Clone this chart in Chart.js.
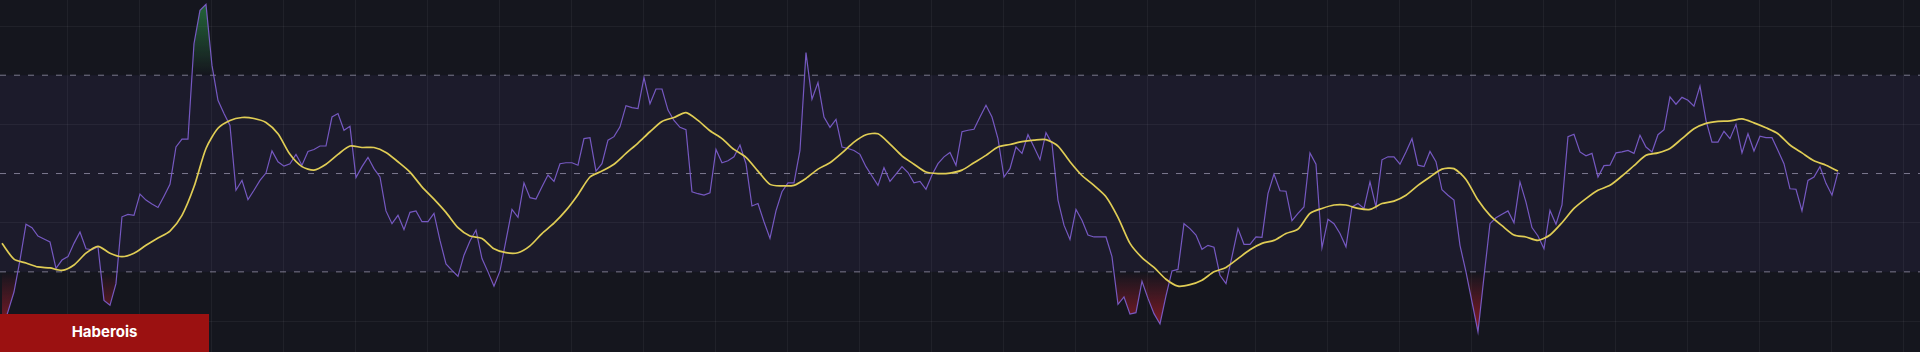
<!DOCTYPE html>
<html>
<head>
<meta charset="utf-8">
<title>RSI</title>
<script src="https://cdn.jsdelivr.net/npm/chart.js@4.4.1/dist/chart.umd.min.js"></script>
<style>
    html, body { margin: 0; padding: 0; background: #15161e; overflow: hidden; }
    #wrap { position: relative; width: 1920px; height: 352px; }
    #tag {
        position: absolute; left: 0; bottom: 0; width: 209px; height: 38px;
        box-sizing: border-box; padding-bottom: 4px;
        background: #9b1111; color: #fff;
        font: 700 15px Inter, "DejaVu Sans", sans-serif;
        display: flex; align-items: center; justify-content: center;
    }
</style>
</head>
<body>
<div id="wrap">
    <canvas id="rsiChart"></canvas>
    <div id="tag">Haberois</div>
</div>
<script>
// RSI per bar
const rsiValues = [
    18.1, 21.9, 25.9, 32.4, 39.7, 39.0, 37.3, 36.7, 36.1, 30.7, 32.4, 33.1, 35.8, 38.1, 34.7, 34.5, 35.1, 24.2, 23.2, 27.6,
    41.2, 41.7, 41.5, 45.8, 44.6, 43.8, 43.1, 45.4, 47.8, 55.4, 57.0, 57.0, 76.4, 83.2, 84.4, 72.0, 64.9, 62.2, 59.8, 46.6,
    48.6, 44.7, 46.6, 48.6, 50.1, 54.6, 52.4, 51.5, 52.0, 53.9, 51.7, 54.5, 54.9, 55.6, 55.6, 61.5, 62.2, 58.8, 59.6, 49.2,
    51.4, 53.3, 51.0, 49.3, 42.4, 39.8, 41.5, 38.6, 42.1, 42.4, 40.2, 40.2, 41.9, 36.4, 31.6, 30.3, 29.1, 33.4, 36.3, 38.5,
    32.7, 30.0, 27.1, 30.2, 36.4, 42.7, 41.1, 48.1, 45.1, 44.8, 47.3, 49.7, 48.4, 52.0, 52.2, 52.2, 51.7, 57.1, 57.3, 50.5,
    52.0, 56.8, 57.5, 59.5, 63.8, 63.4, 63.2, 69.5, 64.2, 67.2, 67.2, 62.9, 60.8, 59.4, 58.9, 46.3, 45.9, 45.6, 46.1, 54.9,
    52.2, 52.6, 53.4, 55.8, 52.0, 43.4, 43.9, 40.2, 36.8, 42.4, 46.3, 48.1, 48.1, 54.7, 74.6, 65.1, 68.5, 61.5, 59.4, 61.0,
    55.4, 55.1, 54.7, 53.9, 51.4, 49.5, 47.6, 51.2, 48.4, 49.9, 51.4, 50.2, 48.1, 48.4, 46.8, 49.7, 52.0, 53.4, 54.3, 51.7,
    58.5, 58.8, 59.0, 61.5, 63.9, 61.5, 57.1, 49.3, 51.0, 55.4, 54.1, 57.9, 55.4, 52.8, 58.3, 56.1, 44.6, 39.5, 36.6, 42.7,
    40.5, 37.5, 37.1, 37.1, 37.1, 33.1, 23.4, 24.9, 21.4, 21.7, 28.1, 24.6, 21.5, 19.4, 25.1, 30.2, 30.5, 39.8, 38.8, 37.5,
    34.6, 35.4, 35.0, 29.3, 27.6, 33.1, 38.8, 35.6, 35.6, 37.1, 37.0, 45.9, 49.9, 46.5, 46.4, 40.4, 41.9, 43.2, 54.2, 51.9,
    34.9, 40.7, 39.8, 37.8, 35.1, 43.2, 43.9, 42.9, 48.3, 43.2, 52.8, 53.4, 53.4, 51.9, 54.4, 57.1, 51.7, 51.4, 54.5, 52.4,
    46.7, 45.6, 44.6, 35.4, 30.0, 23.9, 17.8, 29.0, 39.8, 41.0, 41.7, 42.4, 40.0, 48.3, 44.2, 39.0, 37.3, 34.7, 42.5, 39.7,
    43.6, 57.5, 58.0, 54.4, 53.6, 54.1, 49.3, 51.6, 51.7, 54.2, 54.4, 54.7, 54.1, 57.8, 55.4, 54.4, 57.9, 58.9, 65.6, 64.1,
    65.5, 64.9, 63.7, 67.8, 60.8, 56.4, 56.4, 58.6, 57.1, 60.0, 54.2, 58.1, 54.6, 57.6, 57.3, 57.3, 54.7, 52.0, 46.9, 46.8,
    42.4, 48.6, 49.3, 51.4, 48.0, 45.6, 50.3
];

// RSI moving average, read every 2nd bar
const maStep = 2;
const maValues = [
    35.8, 32.6, 31.8, 31.0, 30.8, 30.3, 31.4, 33.8, 35.2, 33.8, 33.1, 33.8, 35.4, 36.9, 38.3, 41.5, 47.3, 55.1, 59.2, 60.8,
    61.4, 61.2, 60.4, 58.1, 53.9, 51.4, 50.7, 51.9, 53.9, 55.6, 55.3, 55.3, 54.3, 52.4, 50.3, 47.3, 44.8, 42.1, 39.0, 37.3,
    36.8, 34.7, 33.9, 33.9, 35.3, 37.8, 39.9, 42.5, 45.7, 49.3, 50.5, 51.9, 54.1, 56.2, 58.5, 60.6, 61.4, 62.4, 60.8, 58.7,
    57.1, 54.9, 53.3, 50.5, 47.8, 47.5, 47.6, 49.0, 50.9, 52.2, 54.2, 56.4, 57.9, 58.1, 56.0, 53.6, 51.9, 50.3, 50.0, 50.1,
    50.7, 52.2, 53.7, 55.4, 55.9, 56.5, 56.8, 56.9, 55.6, 52.4, 49.6, 47.6, 45.3, 41.1, 35.8, 32.9, 30.9, 28.5, 27.1, 27.4,
    28.3, 30.0, 30.9, 32.7, 34.5, 35.8, 36.4, 37.8, 38.7, 41.9, 42.9, 43.6, 43.6, 42.9, 42.7, 43.9, 44.4, 45.6, 47.6, 49.3,
    50.9, 51.0, 48.8, 44.6, 41.5, 39.4, 37.5, 37.1, 36.4, 37.5, 40.0, 42.9, 44.9, 46.6, 47.6, 49.5, 51.6, 53.7, 54.2, 55.1,
    57.1, 59.1, 60.2, 60.6, 60.7, 61.1, 60.3, 59.3, 58.1, 55.8, 54.2, 52.6, 51.7, 50.5
];

const upperLevel = 70;
const midLevel = 50;
const lowerLevel = 30;

// vertical grid (bar index) and horizontal grid (rsi value)
const gridBars = [11, 23, 35, 47, 59, 71, 83, 95, 107, 119, 131, 143, 155, 167, 179, 191, 209, 221, 233, 245, 257, 269, 281, 293, 305, 317];
const gridLevels = [20, 40, 60, 80];

const xMin = -0.33, xMax = 319.67;
const yMin = 13.7, yMax = 85.3;

const toPoints = (vals, step) => vals.map((v, i) => ({ x: i * step, y: v }));
const flatLine = (level) => [{ x: xMin, y: level }, { x: xMax, y: level }];

// vertical gradient between two rsi values, transparent at the first one
function fade(chart, fromVal, toVal, rgb, alpha) {
    if (!chart.chartArea) return "transparent";
    let y = chart.scales.y;
    let g = chart.ctx.createLinearGradient(0, y.getPixelForValue(fromVal), 0, y.getPixelForValue(toVal));
    g.addColorStop(0, `rgba(${rgb},0)`);
    g.addColorStop(1, `rgba(${rgb},${alpha})`);
    return g;
}

const dashStyle = {
    borderColor: "rgba(175,172,195,0.65)",
    borderWidth: 1,
    borderDash: [6, 8],
    pointRadius: 0,
    fill: false,
    order: 3
};

new Chart(document.getElementById("rsiChart"), {
    type: "line",
    data: {
        datasets: [
            {
                label: "MA",
                data: toPoints(maValues, maStep),
                borderColor: "#e0cd55",
                borderWidth: 1.7,
                pointRadius: 0,
                tension: 0.25,
                fill: false,
                order: 0
            },
            {
                label: "RSI",
                data: toPoints(rsiValues, 1),
                borderColor: "rgba(126,94,206,0.92)",
                borderWidth: 1.2,
                pointRadius: 0,
                tension: 0,
                fill: false,
                order: 1
            },
            {
                label: "overbought",
                data: toPoints(rsiValues, 1),
                borderWidth: 0,
                borderColor: "transparent",
                pointRadius: 0,
                fill: { target: { value: upperLevel }, below: "rgba(0,0,0,0)" },
                backgroundColor: (c) => fade(c.chart, upperLevel, 84, "45,150,75", 0.6),
                order: 2
            },
            {
                label: "oversold",
                data: toPoints(rsiValues, 1),
                borderWidth: 0,
                borderColor: "transparent",
                pointRadius: 0,
                fill: { target: { value: lowerLevel }, above: "rgba(0,0,0,0)" },
                backgroundColor: (c) => fade(c.chart, lowerLevel, 17, "200,30,45", 0.7),
                order: 2
            },
            Object.assign({ label: "upper", data: flatLine(upperLevel) }, dashStyle, {
                fill: { target: { value: lowerLevel } },
                backgroundColor: "rgba(115,95,210,0.075)",
                order: 4
            }),
            Object.assign({ label: "mid", data: flatLine(midLevel) }, dashStyle),
            Object.assign({ label: "lower", data: flatLine(lowerLevel) }, dashStyle)
        ]
    },
    options: {
        responsive: true,
        maintainAspectRatio: false,
        animation: false,
        events: [],
        layout: { padding: 0 },
        plugins: {
            legend: { display: false },
            tooltip: { enabled: false },
            filler: { drawTime: "beforeDatasetsDraw" }
        },
        scales: {
            x: {
                type: "linear",
                min: xMin,
                max: xMax,
                afterBuildTicks: (axis) => { axis.ticks = gridBars.map(v => ({ value: v })); },
                ticks: { display: false },
                grid: { color: "rgba(255,255,255,0.05)", drawTicks: false },
                border: { display: false }
            },
            y: {
                min: yMin,
                max: yMax,
                afterBuildTicks: (axis) => { axis.ticks = gridLevels.map(v => ({ value: v })); },
                ticks: { display: false },
                grid: { color: "rgba(255,255,255,0.05)", drawTicks: false },
                border: { display: false }
            }
        }
    }
});
</script>
</body>
</html>
